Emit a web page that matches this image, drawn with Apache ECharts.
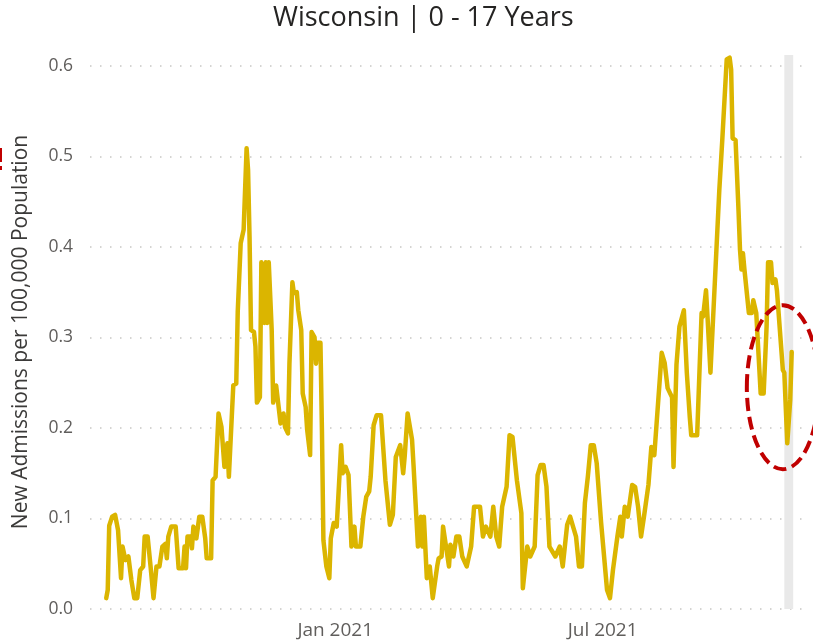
<!DOCTYPE html>
<html>
<head>
<meta charset="utf-8">
<title>Wisconsin | 0 - 17 Years</title>
<script src="https://cdn.jsdelivr.net/npm/echarts@6.0.0/dist/echarts.min.js"></script>
<style>
  html, body { margin: 0; padding: 0; background: #fff; }
  #chart { width: 813px; height: 643px; }
</style>
</head>
<body>
<div id="chart"></div>
<script>
// daily admissions, 0-17 years
var dates = [
  "2020-07-30", "2020-07-31", "2020-08-01", "2020-08-03", "2020-08-05", "2020-08-07", "2020-08-09", "2020-08-10",
  "2020-08-12", "2020-08-14", "2020-08-16", "2020-08-18", "2020-08-20", "2020-08-22", "2020-08-24", "2020-08-25",
  "2020-08-27", "2020-08-29", "2020-08-31", "2020-09-01", "2020-09-02", "2020-09-04", "2020-09-06", "2020-09-08",
  "2020-09-09", "2020-09-10", "2020-09-12", "2020-09-15", "2020-09-17", "2020-09-20", "2020-09-21", "2020-09-22",
  "2020-09-23", "2020-09-25", "2020-09-26", "2020-09-27", "2020-09-29", "2020-10-01", "2020-10-03", "2020-10-05",
  "2020-10-06", "2020-10-09", "2020-10-10", "2020-10-12", "2020-10-14", "2020-10-16", "2020-10-18", "2020-10-20",
  "2020-10-21", "2020-10-24", "2020-10-26", "2020-10-27", "2020-10-28", "2020-10-29", "2020-10-30", "2020-10-31",
  "2020-11-02", "2020-11-03", "2020-11-04", "2020-11-05", "2020-11-07", "2020-11-08", "2020-11-09", "2020-11-11",
  "2020-11-12", "2020-11-14", "2020-11-15", "2020-11-16", "2020-11-17", "2020-11-19", "2020-11-20", "2020-11-22",
  "2020-11-25", "2020-11-27", "2020-11-28", "2020-11-30", "2020-12-01", "2020-12-03", "2020-12-04", "2020-12-06",
  "2020-12-07", "2020-12-09", "2020-12-10", "2020-12-12", "2020-12-13", "2020-12-15", "2020-12-16", "2020-12-18",
  "2020-12-19", "2020-12-20", "2020-12-22", "2020-12-23", "2020-12-24", "2020-12-26", "2020-12-28", "2020-12-29",
  "2020-12-31", "2021-01-02", "2021-01-05", "2021-01-06", "2021-01-08", "2021-01-10", "2021-01-12", "2021-01-14",
  "2021-01-15", "2021-01-18", "2021-01-20", "2021-01-22", "2021-01-24", "2021-01-25", "2021-01-27", "2021-01-29",
  "2021-02-01", "2021-02-04", "2021-02-07", "2021-02-09", "2021-02-11", "2021-02-14", "2021-02-16", "2021-02-17",
  "2021-02-19", "2021-02-22", "2021-02-23", "2021-02-26", "2021-02-28", "2021-03-01", "2021-03-02", "2021-03-04",
  "2021-03-06", "2021-03-08", "2021-03-11", "2021-03-12", "2021-03-14", "2021-03-15", "2021-03-17", "2021-03-19",
  "2021-03-20", "2021-03-22", "2021-03-24", "2021-03-26", "2021-03-28", "2021-03-31", "2021-04-03", "2021-04-05",
  "2021-04-09", "2021-04-11", "2021-04-13", "2021-04-16", "2021-04-18", "2021-04-20", "2021-04-22", "2021-04-24",
  "2021-04-27", "2021-04-29", "2021-05-01", "2021-05-04", "2021-05-07", "2021-05-08", "2021-05-11", "2021-05-13",
  "2021-05-16", "2021-05-18", "2021-05-20", "2021-05-22", "2021-05-24", "2021-05-26", "2021-05-30", "2021-06-02",
  "2021-06-04", "2021-06-07", "2021-06-09", "2021-06-11", "2021-06-13", "2021-06-15", "2021-06-17", "2021-06-19",
  "2021-06-21", "2021-06-23", "2021-06-25", "2021-06-27", "2021-06-30", "2021-07-04", "2021-07-06", "2021-07-08",
  "2021-07-11", "2021-07-13", "2021-07-14", "2021-07-16", "2021-07-18", "2021-07-21", "2021-07-23", "2021-07-25",
  "2021-07-27", "2021-07-29", "2021-08-01", "2021-08-03", "2021-08-05", "2021-08-08", "2021-08-10", "2021-08-12",
  "2021-08-14", "2021-08-17", "2021-08-18", "2021-08-20", "2021-08-22", "2021-08-25", "2021-08-27", "2021-08-29",
  "2021-08-30", "2021-09-03", "2021-09-06", "2021-09-07", "2021-09-09", "2021-09-10", "2021-09-12", "2021-09-13",
  "2021-09-18", "2021-09-20", "2021-09-21", "2021-09-23", "2021-09-25", "2021-09-26", "2021-09-27", "2021-09-29",
  "2021-10-01", "2021-10-02", "2021-10-03", "2021-10-04", "2021-10-05", "2021-10-08", "2021-10-10", "2021-10-11",
  "2021-10-13", "2021-10-16", "2021-10-18", "2021-10-20", "2021-10-21", "2021-10-23", "2021-10-24", "2021-10-26",
  "2021-10-27", "2021-10-28", "2021-10-31", "2021-11-01", "2021-11-03", "2021-11-05", "2021-11-06"
];
var values = [
  0.012, 0.021, 0.092, 0.102, 0.104, 0.087, 0.034, 0.069,
  0.054, 0.058, 0.032, 0.012, 0.012, 0.043, 0.047, 0.080,
  0.080, 0.047, 0.012, 0.012, 0.047, 0.047, 0.069, 0.072,
  0.056, 0.080, 0.091, 0.091, 0.045, 0.045, 0.069, 0.045,
  0.080, 0.080, 0.067, 0.091, 0.078, 0.102, 0.102, 0.078,
  0.056, 0.056, 0.142, 0.146, 0.216, 0.201, 0.157, 0.183,
  0.146, 0.247, 0.249, 0.328, 0.328, 0.404, 0.406, 0.419,
  0.509, 0.485, 0.411, 0.308, 0.306, 0.290, 0.228, 0.234,
  0.383, 0.316, 0.383, 0.316, 0.383, 0.308, 0.228, 0.247,
  0.205, 0.216, 0.201, 0.194, 0.271, 0.361, 0.349, 0.350,
  0.330, 0.308, 0.238, 0.223, 0.198, 0.170, 0.306, 0.300,
  0.271, 0.294, 0.294, 0.198, 0.076, 0.047, 0.034, 0.078,
  0.095, 0.091, 0.181, 0.150, 0.157, 0.148, 0.069, 0.091,
  0.069, 0.069, 0.102, 0.124, 0.130, 0.146, 0.203, 0.214,
  0.214, 0.142, 0.093, 0.104, 0.168, 0.181, 0.150, 0.168,
  0.216, 0.187, 0.159, 0.069, 0.102, 0.069, 0.102, 0.034,
  0.047, 0.012, 0.047, 0.056, 0.058, 0.091, 0.069, 0.047,
  0.071, 0.058, 0.080, 0.080, 0.058, 0.047, 0.069, 0.113,
  0.113, 0.080, 0.091, 0.080, 0.113, 0.080, 0.069, 0.113,
  0.135, 0.192, 0.190, 0.142, 0.106, 0.023, 0.069, 0.058,
  0.069, 0.148, 0.159, 0.159, 0.135, 0.069, 0.058, 0.069,
  0.047, 0.093, 0.102, 0.091, 0.080, 0.047, 0.047, 0.117,
  0.146, 0.181, 0.181, 0.161, 0.095, 0.021, 0.012, 0.043,
  0.080, 0.102, 0.080, 0.113, 0.102, 0.137, 0.135, 0.113,
  0.080, 0.102, 0.137, 0.179, 0.170, 0.238, 0.283, 0.272,
  0.244, 0.234, 0.157, 0.270, 0.312, 0.330, 0.261, 0.212,
  0.192, 0.192, 0.327, 0.323, 0.352, 0.323, 0.261, 0.261,
  0.463, 0.518, 0.518, 0.607, 0.609, 0.596, 0.520, 0.518,
  0.440, 0.397, 0.375, 0.393, 0.375, 0.327, 0.327, 0.341,
  0.327, 0.238, 0.238, 0.312, 0.383, 0.383, 0.360, 0.364,
  0.352, 0.352, 0.264, 0.261, 0.183, 0.231, 0.284
];
var xTickDates = ["2021-01-01", "2021-07-01"];
var xTickLabels = ["Jan 2021", "Jul 2021"];
var xRange = ["2020-07-19", "2021-11-15"];
var partialWeek = ["2021-11-01", "2021-11-07"];

function toTime(d) {
  return echarts.time.parse(d).getTime();
}
var xTickTimes = xTickDates.map(toTime);
var seriesData = dates.map(function (d, i) {
  return [toTime(d), values[i]];
});

var chart = echarts.init(document.getElementById("chart"));
var font = "'Segoe UI', 'Open Sans', sans-serif";

var option = {
  backgroundColor: "#ffffff",
  animation: false,
  title: {
    text: "Wisconsin | 0 - 17 Years",
    left: 268,
    top: 0,
    textStyle: {
      color: "#252423",
      fontFamily: font,
      fontWeight: "normal",
      fontSize: 27,
    },
  },
  grid: {
    left: 90,
    right: 8,
    top: 55,
    bottom: 34,
  },
  xAxis: {
    type: "value",
    min: toTime(xRange[0]),
    max: toTime(xRange[1]),
    axisLine: { show: false },
    axisTick: { show: false },
    splitLine: { show: false },
    axisLabel: {
      customValues: xTickTimes,
      color: "#605e5c",
      fontFamily: font,
      fontSize: 19,
      margin: 12,
      formatter: function (val) {
        var i = xTickTimes.indexOf(val);
        return i >= 0 ? xTickLabels[i] : "";
      },
    },
  },
  yAxis: {
    type: "value",
    min: 0,
    max: 0.612,
    interval: 0.1,
    name: "New Admissions per 100,000 Population",
    nameLocation: "middle",
    nameGap: 58,
    nameTextStyle: {
      color: "#3b3a39",
      fontFamily: font,
      fontSize: 21,
    },
    axisLine: { show: false },
    axisTick: { show: false },
    axisLabel: {
      showMaxLabel: false,
      color: "#605e5c",
      fontFamily: font,
      fontSize: 17.5,
      margin: 17,
      formatter: function (v) {
        return v.toFixed(1);
      },
    },
    splitLine: {
      show: true,
      showMaxLine: false,
      lineStyle: {
        color: "#c8c6c4",
        width: 1.5,
        type: [1.5, 8.5],
      },
    },
  },
  series: [
    {
      // grey band on the latest (incomplete) week
      name: "band",
      type: "line",
      data: [],
      z: 1,
      silent: true,
      markArea: {
        silent: true,
        itemStyle: { color: "#e9e9e9" },
        data: [[{ xAxis: toTime(partialWeek[0]) }, { xAxis: toTime(partialWeek[1]) }]],
      },
    },
    {
      name: "0 - 17 Years",
      type: "line",
      data: seriesData,
      z: 3,
      showSymbol: false,
      symbol: "none",
      lineStyle: {
        color: "#dbb500",
        width: 4.5,
        join: "round",
        cap: "round",
      },
    },
  ],
};
chart.setOption(option);

// red dashed annotation around the last weeks
var centre = chart.convertToPixel({ gridIndex: 0 }, [toTime("2021-10-31"), 0.245]);
chart.setOption({
  graphic: [
    {
      type: "ellipse",
      shape: { cx: centre[0], cy: centre[1], rx: 36, ry: 82 },
      style: {
        fill: "none",
        stroke: "#c00000",
        lineWidth: 4,
        lineDash: [13, 6],
      },
      z: 10,
    },
    {
      type: "rect",
      shape: { x: 0, y: 148, width: 2, height: 14 },
      style: { fill: "#c00000" },
    },
    {
      type: "rect",
      shape: { x: 0, y: 166, width: 2, height: 4 },
      style: { fill: "#c00000" },
    },
  ],
});
</script>
</body>
</html>
